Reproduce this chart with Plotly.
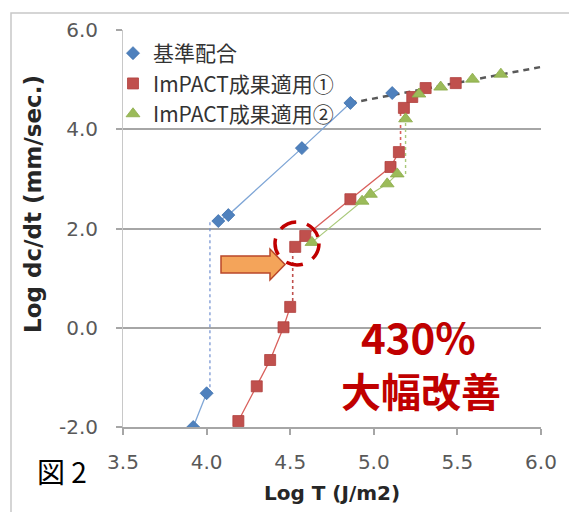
import plotly.graph_objects as go

# ---- data ----
blue_name = "基準配合"
red_name = "ImPACT成果適用①"
green_name = "ImPACT成果適用②"

blue_x = [3.92, 4.00, 4.07, 4.13, 4.57, 4.86, 5.11]
blue_y = [-2.00, -1.32, 2.15, 2.27, 3.62, 4.53, 4.73]

red_x = [4.19, 4.30, 4.38, 4.46, 4.50, 4.53, 4.59, 4.86, 5.10, 5.15, 5.18, 5.23, 5.31, 5.49]
red_y = [-1.88, -1.18, -0.65, 0.01, 0.42, 1.63, 1.85, 2.59, 3.24, 3.54, 4.43, 4.65, 4.83, 4.93]

green_x = [4.63, 4.93, 4.98, 5.08, 5.14, 5.19, 5.27, 5.40, 5.59, 5.76]
green_y = [1.72, 2.55, 2.69, 2.90, 3.10, 4.21, 4.71, 4.85, 5.01, 5.11]

# connector / trend lines
blue_jump_x = [4.02, 4.02]
blue_jump_y = [-1.32, 2.15]
red_jump1_x = [4.515, 4.515]
red_jump1_y = [0.42, 1.63]
red_jump2_x = [5.16, 5.16]
red_jump2_y = [3.54, 4.43]
green_jump_x = [5.19, 5.19]
green_jump_y = [3.10, 4.21]
trend_x = [4.86, 6.07]
trend_y = [4.53, 5.30]

x_ticks = [3.5, 4.0, 4.5, 5.0, 5.5, 6.0]
y_ticks = [-2.0, 0.0, 2.0, 4.0, 6.0]

x_title = "Log T (J/m2)"
y_title = "Log dc/dt (mm/sec.)"
big_text1 = "430%"
big_text2 = "大幅改善"
fig_label = "図 2"

# ---- style ----
BLUE = "#4F81BD"
RED = "#C0504D"
GREEN = "#9BBB59"
W, H = 569, 512
ML, MR, MT, MB = 123, 28, 30, 85
PW, PH = W - ML - MR, H - MT - MB


def px(xp):
    return (xp - ML) / PW


def py(yp):
    return (H - MB - yp) / PH


fig = go.Figure()

# line pieces (no legend)
fig.add_trace(go.Scatter(x=trend_x, y=trend_y, mode="lines",
                         line=dict(color="#595959", width=2.5, dash="6px,5px"),
                         showlegend=False, hoverinfo="skip"))
fig.add_trace(go.Scatter(x=blue_x[0:2], y=blue_y[0:2], mode="lines",
                         line=dict(color="#7FA6D6", width=1.3), showlegend=False))
fig.add_trace(go.Scatter(x=blue_x[2:6], y=blue_y[2:6], mode="lines",
                         line=dict(color="#7FA6D6", width=1.3), showlegend=False))
fig.add_trace(go.Scatter(x=blue_jump_x, y=blue_jump_y, mode="lines",
                         line=dict(color="#6F8FD0", width=1.2, dash="dot"), showlegend=False))
fig.add_trace(go.Scatter(x=red_x[0:5], y=red_y[0:5], mode="lines",
                         line=dict(color="#D9605C", width=1.3), showlegend=False))
fig.add_trace(go.Scatter(x=red_x[5:10], y=red_y[5:10], mode="lines",
                         line=dict(color="#D9605C", width=1.3), showlegend=False))
fig.add_trace(go.Scatter(x=red_jump1_x, y=red_jump1_y, mode="lines",
                         line=dict(color="#C0504D", width=1.6, dash="dot"), showlegend=False))
fig.add_trace(go.Scatter(x=red_jump2_x, y=red_jump2_y, mode="lines",
                         line=dict(color="#D9605C", width=1.6, dash="dot"), showlegend=False))
fig.add_trace(go.Scatter(x=green_x[0:5], y=green_y[0:5], mode="lines",
                         line=dict(color="#A9C97A", width=1.2), showlegend=False))
fig.add_trace(go.Scatter(x=green_jump_x, y=green_jump_y, mode="lines",
                         line=dict(color="#A9C97A", width=1.4, dash="dot"), showlegend=False))

# markers (legend)
fig.add_trace(go.Scatter(x=blue_x, y=blue_y, mode="markers", name=blue_name,
                         marker=dict(symbol="diamond", size=10, color=BLUE,
                                     line=dict(color="#3F71AD", width=0.8))))
fig.add_trace(go.Scatter(x=red_x, y=red_y, mode="markers", name=red_name,
                         marker=dict(symbol="square", size=11, color=RED,
                                     line=dict(color="#B0403D", width=0.8))))
fig.add_trace(go.Scatter(x=green_x, y=green_y, mode="markers", name=green_name,
                         marker=dict(symbol="triangle-up", size=12, color=GREEN,
                                     line=dict(color="#8BAB49", width=0.8))))

shapes = []
# outer chart border
shapes.append(dict(type="rect", xref="paper", yref="paper",
                   x0=px(11), x1=px(580), y0=py(520), y1=py(13),
                   line=dict(color="#C8C8C8", width=1.5), layer="below"))
# dashed circle
shapes.append(dict(type="circle", xref="paper", yref="paper",
                   x0=px(275), x1=px(319), y0=py(265), y1=py(222),
                   line=dict(color="#C00000", width=3.5, dash="17px,11px")))
# arrow
pts = [(221, 256), (270, 256), (270, 249), (285, 264.5), (270, 280), (270, 273), (221, 273)]
path = "M " + " L ".join(f"{px(a):.5f},{py(b):.5f}" for a, b in pts) + " Z"
shapes.append(dict(type="path", xref="paper", yref="paper", path=path,
                   fillcolor="#F4A45A", line=dict(color="#B9472A", width=1.5)))

annotations = [
    dict(text=f"<b>{big_text1}</b>", xref="paper", yref="paper", x=px(418), y=py(335),
         showarrow=False, font=dict(family="Noto Sans CJK JP", size=42, color="#C00000"),
         xanchor="center", yanchor="middle"),
    dict(text=f"<b>{big_text2}</b>", xref="paper", yref="paper", x=px(421), y=py(390),
         showarrow=False, font=dict(family="Noto Sans CJK JP", size=40, color="#C00000"),
         xanchor="center", yanchor="middle"),
    dict(text=fig_label, xref="paper", yref="paper", x=px(62), y=py(471),
         showarrow=False, font=dict(family="Noto Sans CJK JP", size=28, color="#000000"),
         xanchor="center", yanchor="middle"),
    dict(text=f"<b>{x_title}</b>", xref="paper", yref="paper", x=px(332), y=py(493),
         showarrow=False, font=dict(family="DejaVu Sans", size=20, color="#262626"),
         xanchor="center", yanchor="middle"),
    dict(text=f"<b>{y_title}</b>", xref="paper", yref="paper", x=px(33), y=py(204),
         showarrow=False, textangle=-90,
         font=dict(family="DejaVu Sans", size=23, color="#262626"),
         xanchor="center", yanchor="middle"),
]

fig.update_layout(
    width=W, height=H,
    margin=dict(l=ML, r=MR, t=MT, b=MB, pad=0),
    paper_bgcolor="white", plot_bgcolor="white",
    shapes=shapes, annotations=annotations,
    showlegend=True,
    legend=dict(x=px(113), y=py(33), xanchor="left", yanchor="top",
                bgcolor="rgba(0,0,0,0)",
                font=dict(family="Noto Sans CJK JP", size=21, color="#333333"),
                tracegroupgap=0, itemwidth=30),
    xaxis=dict(range=[3.5, 6.0], tickvals=x_ticks,
               ticktext=[f"{v:.1f}" for v in x_ticks],
               showgrid=False, zeroline=False,
               showline=True, linecolor="#A6A6A6", linewidth=1.5,
               ticks="outside", ticklen=6, tickcolor="#A6A6A6", tickwidth=1.5,
               ticklabelstandoff=10,
               tickfont=dict(family="DejaVu Sans", size=20, color="#595959")),
    yaxis=dict(range=[-2.0, 6.0], tickvals=y_ticks,
               ticktext=[f"{v:.1f}" for v in y_ticks],
               showgrid=True, gridcolor="#A6A6A6", gridwidth=1.5,
               zeroline=False,
               showline=True, linecolor="#C8C8C8", linewidth=1,
               ticks="outside", ticklen=6, tickcolor="#A6A6A6", tickwidth=1.5,
               ticklabelstandoff=14,
               tickfont=dict(family="DejaVu Sans", size=20, color="#595959")),
)

fig.write_html("out.html", config={"displayModeBar": False},
               post_script="document.body.style.margin='0px';document.body.style.overflow='hidden';")
